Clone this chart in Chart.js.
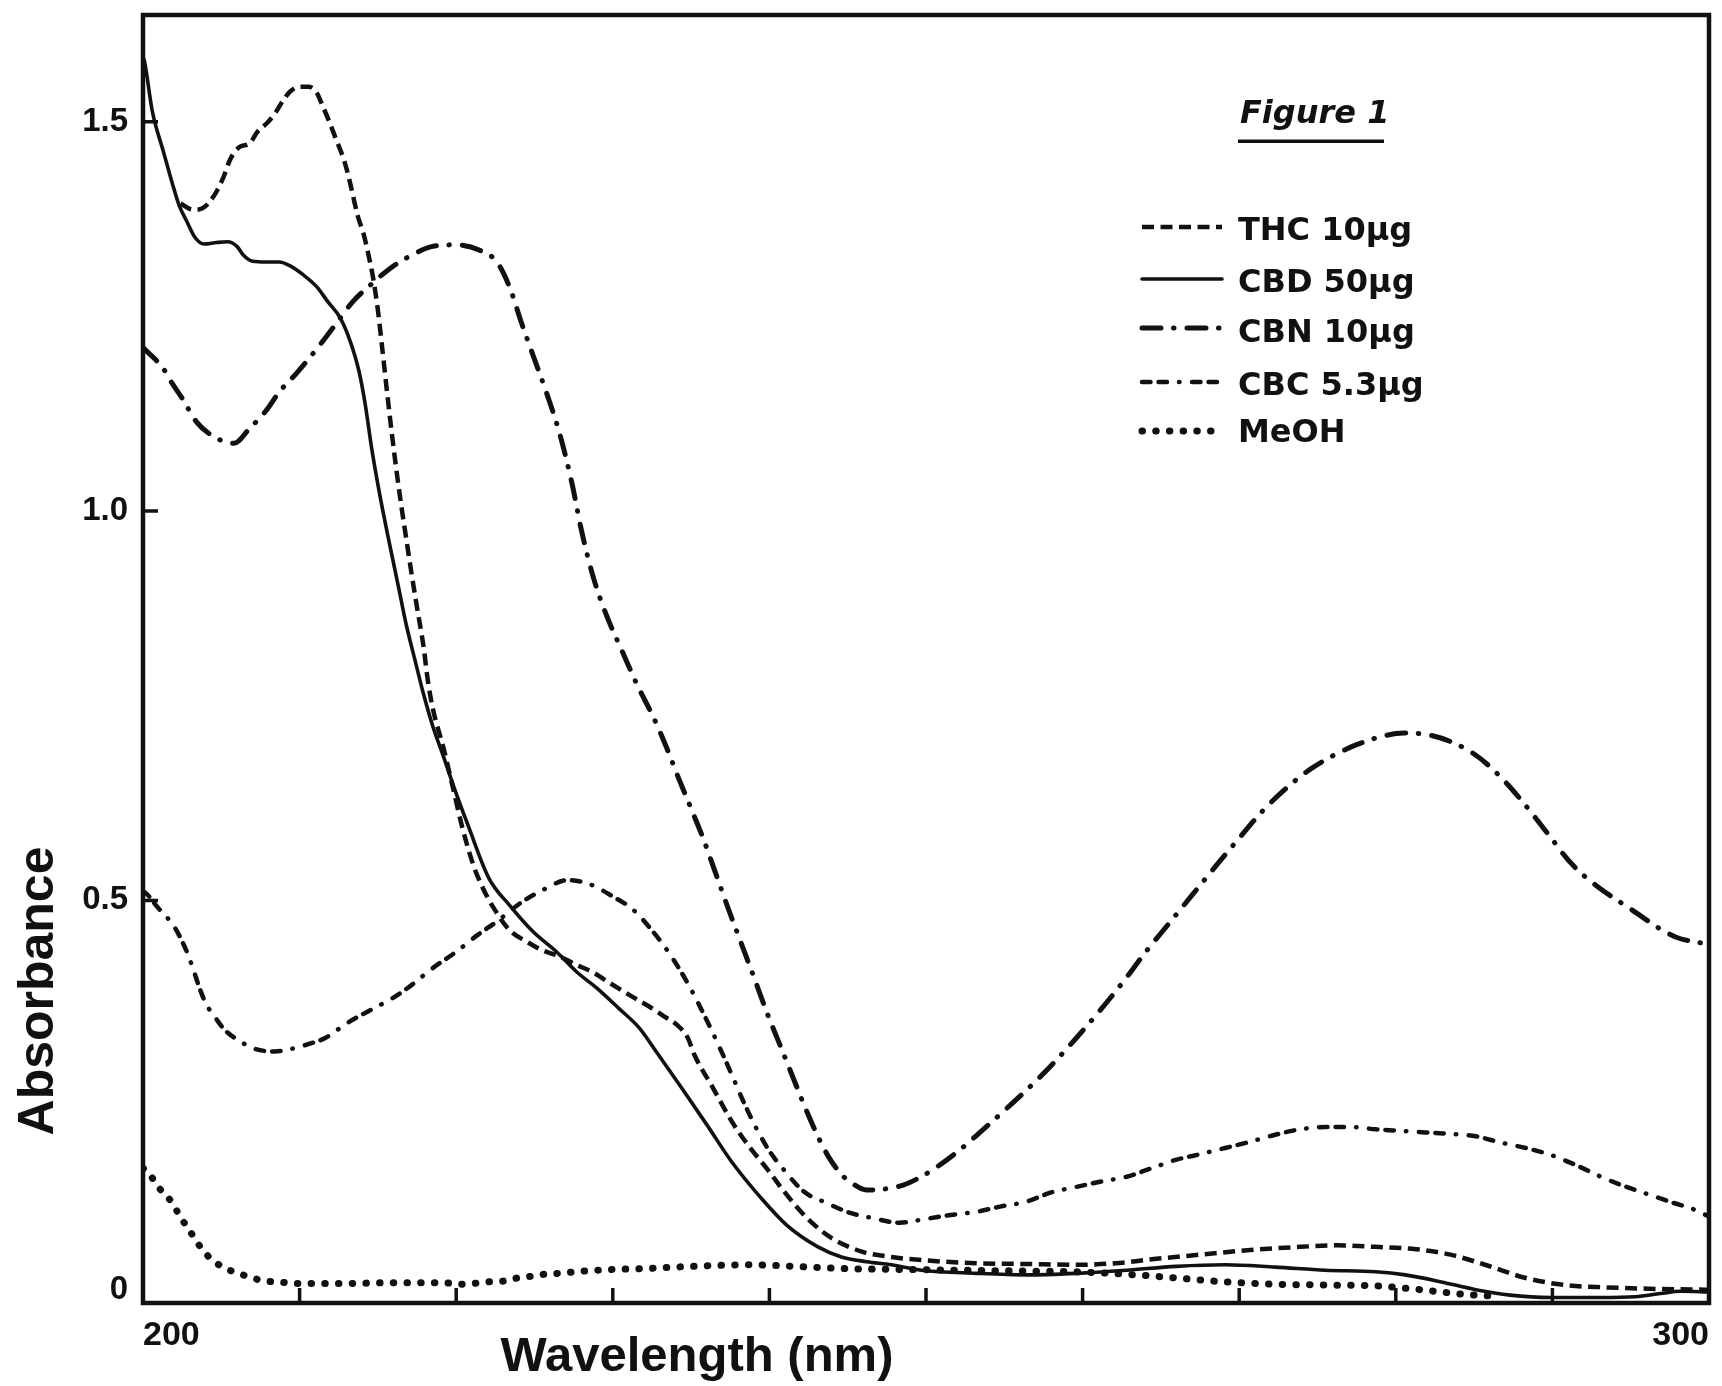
<!DOCTYPE html>
<html>
<head>
<meta charset="utf-8">
<title>Figure 1 - UV spectra</title>
<script src="https://cdn.jsdelivr.net/npm/chart.js@4.4.0/dist/chart.umd.min.js"></script>
<style>
  html, body { margin: 0; padding: 0; background: #fff; }
  #wrap { width: 1722px; height: 1386px; position: relative; }
</style>
</head>
<body>
<div id="wrap"><canvas id="chart"></canvas></div>
<script>
// values: wavelength (nm) and absorbance
const thcNm = [202.4, 203.2, 203.8, 204.5, 205.1, 205.6, 206.2, 206.8, 207.3, 208.0, 208.5, 208.9, 209.4, 210.0, 210.6,
  211.1, 211.5, 211.9, 212.3, 212.8, 213.1, 213.4, 213.7, 214.1, 214.4, 214.7, 215.0, 215.3, 215.6, 215.9, 216.2, 216.5,
  216.8, 217.1, 217.5, 217.9, 218.2, 218.5, 219.2, 219.8, 220.4, 221.1, 221.7, 222.4, 223.4, 224.5, 225.5,
  226.6, 227.7, 228.7, 229.8, 231.1, 232.3, 233.2, 234.1, 234.8, 235.2, 236.4, 237.6, 238.7, 239.9, 241.1, 242.4, 244.0,
  245.9, 247.8, 249.7, 253.2, 256.4, 259.6, 262.1, 264.4, 267.5, 270.7, 273.9, 276.2, 278.7, 281.3, 283.5, 285.7, 288.3,
  290.8, 293.4, 296.6, 300.0];
const thcAbs = [1.395, 1.387, 1.389, 1.404, 1.427, 1.453, 1.468, 1.472, 1.487, 1.500, 1.513, 1.526, 1.539, 1.545, 1.545,
  1.537, 1.519, 1.500, 1.479, 1.453, 1.432, 1.406, 1.380, 1.355, 1.329, 1.299, 1.258, 1.205, 1.150, 1.098, 1.050, 1.006,
  0.966, 0.926, 0.876, 0.828, 0.781, 0.747, 0.695, 0.644, 0.593, 0.545, 0.516, 0.490, 0.462, 0.447, 0.436,
  0.428, 0.417, 0.408, 0.394, 0.378, 0.364, 0.352, 0.340, 0.323, 0.302, 0.259, 0.216, 0.184, 0.154, 0.122, 0.092, 0.066,
  0.049, 0.042, 0.038, 0.034, 0.033, 0.032, 0.034, 0.039, 0.045, 0.051, 0.055, 0.057, 0.055, 0.052, 0.045, 0.032, 0.015,
  0.006, 0.003, 0.001, 0.000];

const cbdNm = [200.0, 200.1, 200.6, 201.3, 201.9, 202.3, 202.8, 203.3, 203.9, 204.7, 205.4, 206.0, 206.4, 207.0, 207.9,
  208.7, 209.4, 210.2, 211.1, 211.8, 212.6, 213.2, 213.8, 214.2, 214.6, 215.1, 215.7, 216.3, 216.8, 217.4, 217.9, 218.5,
  219.2, 219.9, 220.8, 222.1, 223.4, 224.9, 226.4, 227.7, 229.0, 230.4, 231.7, 232.8, 234.4, 236.0, 237.6, 239.5, 241.1,
  243.1, 244.6, 246.2, 247.8, 249.7, 253.2, 256.4, 259.6, 262.8, 266.0, 269.1, 272.3, 275.5, 278.7, 280.6, 282.9, 285.1,
  287.3, 289.9, 293.1, 295.3, 296.9, 298.2, 300.0];
const cbdAbs = [1.583, 1.577, 1.513, 1.462, 1.419, 1.393, 1.372, 1.352, 1.343, 1.345, 1.346, 1.340, 1.329, 1.321, 1.320,
  1.320, 1.315, 1.304, 1.288, 1.269, 1.248, 1.220, 1.179, 1.136, 1.081, 1.023, 0.962, 0.904, 0.855, 0.806, 0.766, 0.724,
  0.684, 0.643, 0.594, 0.528, 0.494, 0.460, 0.434, 0.408, 0.387, 0.361, 0.336, 0.305, 0.259, 0.212, 0.164, 0.117, 0.083,
  0.055, 0.042, 0.036, 0.032, 0.025, 0.021, 0.019, 0.021, 0.025, 0.030, 0.032, 0.029, 0.025, 0.023, 0.019, 0.010, 0.000,
  -0.007, -0.010, -0.010, -0.009, -0.005, -0.002, -0.003];

const cbnNm = [200.0, 201.3, 201.8, 202.5, 203.4, 204.5, 205.8, 206.8, 207.9, 208.7, 209.8, 210.6, 211.7, 212.6, 213.4,
  214.5, 215.8, 217.0, 218.5, 220.0, 221.5, 222.6, 223.4, 224.2, 225.0, 225.8, 226.6, 227.4, 228.0, 228.8, 229.6, 230.6,
  231.6, 232.6, 233.4, 234.2, 235.0, 235.8, 236.6, 237.4, 238.2, 239.0, 239.8, 240.6, 241.4, 242.2, 243.0, 243.8, 244.6,
  245.4, 246.2, 247.2, 248.5, 249.5, 250.5, 252.0, 253.5, 255.0, 256.5, 258.0, 259.5, 261.0, 262.5, 264.0, 265.5, 267.0,
  268.5, 270.0, 271.5, 273.0, 274.5, 276.0, 277.5, 279.0, 280.5, 282.0, 283.5, 285.0, 286.0, 287.0, 288.0, 289.0, 290.0,
  291.0, 292.0, 293.0, 294.0, 295.0, 296.0, 297.0, 298.0, 299.0, 300.0];
const cbnAbs = [1.210, 1.183, 1.166, 1.145, 1.115, 1.096, 1.087, 1.106, 1.130, 1.153, 1.177, 1.196, 1.224, 1.248, 1.269,
  1.290, 1.312, 1.327, 1.340, 1.342, 1.335, 1.320, 1.288, 1.240, 1.195, 1.150, 1.100, 1.035, 0.975, 0.912, 0.866, 0.820,
  0.775, 0.735, 0.698, 0.657, 0.618, 0.578, 0.533, 0.488, 0.445, 0.402, 0.358, 0.318, 0.278, 0.238, 0.201, 0.170, 0.148,
  0.135, 0.128, 0.129, 0.134, 0.143, 0.155, 0.177, 0.203, 0.230, 0.258, 0.288, 0.321, 0.356, 0.393, 0.433, 0.470, 0.507,
  0.544, 0.580, 0.615, 0.644, 0.668, 0.686, 0.700, 0.710, 0.715, 0.713, 0.704, 0.688, 0.672, 0.652, 0.629, 0.604, 0.578,
  0.552, 0.532, 0.516, 0.502, 0.489, 0.475, 0.462, 0.452, 0.447, 0.444];

const cbcNm = [200.0, 200.3, 200.9, 202.0, 202.8, 203.2, 203.6, 204.0, 204.6, 205.2, 206.2, 207.2, 208.4, 209.4, 210.5,
  211.7, 213.0, 214.7, 215.9, 217.0, 218.5, 220.0, 221.4, 222.6, 224.2, 225.5, 227.1, 228.5, 230.0, 231.3, 232.4, 233.4,
  234.4, 235.2, 236.0, 236.8, 237.6, 238.4, 239.2, 240.0, 240.8, 242.2, 243.7, 245.1, 246.6, 248.3, 250.0, 251.6,
  253.2, 254.8, 256.4, 258.0, 259.6, 261.2, 262.8, 264.4, 266.0, 267.5, 269.1, 270.7, 272.3, 273.9, 275.5, 277.1, 278.7,
  280.3, 281.9, 283.5, 285.1, 286.7, 288.3, 289.9, 291.5, 293.1, 294.6, 296.2, 297.8, 298.8, 300.0];
const cbcAbs = [0.512, 0.507, 0.492, 0.466, 0.434, 0.412, 0.388, 0.368, 0.350, 0.334, 0.319, 0.309, 0.306, 0.309, 0.315,
  0.324, 0.342, 0.361, 0.374, 0.389, 0.413, 0.434, 0.456, 0.473, 0.498, 0.513, 0.526, 0.521, 0.505, 0.488, 0.464, 0.438,
  0.407, 0.378, 0.346, 0.312, 0.276, 0.239, 0.206, 0.178, 0.157, 0.126, 0.111, 0.099, 0.092, 0.086, 0.091, 0.096,
  0.100, 0.107, 0.113, 0.125, 0.132, 0.139, 0.145, 0.156, 0.167, 0.174, 0.182, 0.190, 0.199, 0.206, 0.209, 0.209, 0.206,
  0.204, 0.202, 0.200, 0.197, 0.189, 0.182, 0.173, 0.160, 0.145, 0.133, 0.122, 0.111, 0.105, 0.094];

const meohNm = [200.0, 200.3, 200.8, 201.3, 201.9, 202.3, 202.8, 203.3, 203.8, 204.5, 205.3, 206.1, 207.0, 207.8, 208.7,
  209.6, 212.8, 216.0, 219.1, 220.4, 222.0, 223.0, 223.9, 224.7, 225.7, 226.5, 228.2, 230.0, 231.9, 235.1, 238.7, 241.5,
  245.0, 248.5, 252.0, 256.0, 259.5, 263.4, 266.0, 269.1, 272.3, 275.5, 278.7, 280.6, 282.9, 284.4, 286.0];
const meohAbs = [0.156, 0.152, 0.137, 0.124, 0.111, 0.096, 0.081, 0.066, 0.051, 0.037, 0.027, 0.021, 0.015, 0.011, 0.010,
  0.008, 0.008, 0.009, 0.009, 0.007, 0.010, 0.011, 0.015, 0.017, 0.020, 0.021, 0.024, 0.026, 0.027, 0.030, 0.032, 0.030,
  0.027, 0.026, 0.025, 0.024, 0.023, 0.019, 0.015, 0.010, 0.007, 0.006, 0.005, 0.002, -0.003, -0.006, -0.008];

const xTickValues = [200, 210, 220, 230, 240, 250, 260, 270, 280, 290, 300];
const yTickValues = [0, 0.5, 1.0, 1.5];
const seriesLabels = ['THC 10μg', 'CBD 50μg', 'CBN 10μg', 'CBC 5.3μg', 'MeOH'];

const ink = '#111';
const sans = '"Liberation Sans", Arial, sans-serif';
const wide = '"DejaVu Sans", sans-serif';

function pairs(xs, ys) {
  return xs.map((x, i) => ({ x, y: ys[i] }));
}

// frame, inward ticks, axis titles and the legend box in the top right
const decor = {
  id: 'decor',
  afterDatasetsDraw(chart) {
    const { ctx, chartArea: a, scales: { x, y } } = chart;
    ctx.save();
    ctx.strokeStyle = ink;
    ctx.setLineDash([]);
    ctx.lineWidth = 4.5;
    ctx.strokeRect(a.left, a.top, a.right - a.left, a.bottom - a.top);

    ctx.lineWidth = 3.5;
    ctx.beginPath();
    xTickValues.slice(1, -1).forEach(v => {
      const px = x.getPixelForValue(v);
      ctx.moveTo(px, a.bottom);
      ctx.lineTo(px, a.bottom - 15);
    });
    yTickValues.slice(1).forEach(v => {
      const py = y.getPixelForValue(v);
      ctx.moveTo(a.left, py);
      ctx.lineTo(a.left + 15, py);
    });
    ctx.stroke();

    ctx.fillStyle = ink;
    ctx.font = 'bold 49px ' + sans;
    ctx.textAlign = 'center';
    ctx.textBaseline = 'alphabetic';
    ctx.fillText('Wavelength (nm)', 697, 1371);

    ctx.save();
    ctx.translate(53, 991);
    ctx.rotate(-Math.PI / 2);
    ctx.font = 'bold 50px ' + sans;
    ctx.fillText('Absorbance', 0, 0);
    ctx.restore();

    ctx.textAlign = 'left';
    ctx.font = 'italic bold 32px ' + wide;
    ctx.fillText('Figure 1', 1240, 123);
    ctx.fillRect(1238, 139.5, 146, 3.5);

    const rowLine = [227, 279, 328, 382, 431];
    const rowText = [240, 292, 342, 395, 442];
    ctx.font = 'bold 32px ' + wide;
    chart.data.datasets.forEach((ds, i) => {
      ctx.save();
      ctx.lineWidth = ds.borderWidth;
      ctx.lineCap = ds.borderCapStyle || 'butt';
      ctx.setLineDash(ds.borderDash || []);
      ctx.beginPath();
      ctx.moveTo(1142, rowLine[i]);
      ctx.lineTo(1222, rowLine[i]);
      ctx.stroke();
      ctx.restore();
      ctx.fillText(ds.label, 1238, rowText[i]);
    });
    ctx.restore();
  }
};

const common = { borderColor: ink, pointRadius: 0, fill: false, cubicInterpolationMode: 'monotone', borderJoinStyle: 'round' };

new Chart(document.getElementById('chart'), {
  type: 'line',
  data: {
    datasets: [
      { ...common, label: seriesLabels[0], data: pairs(thcNm, thcAbs), borderWidth: 4.5, borderDash: [12, 6.5], borderCapStyle: 'butt' },
      { ...common, label: seriesLabels[1], data: pairs(cbdNm, cbdAbs), borderWidth: 3.6, borderCapStyle: 'round' },
      { ...common, label: seriesLabels[2], data: pairs(cbnNm, cbnAbs), borderWidth: 5, borderDash: [19, 12.5, 0.5, 13], borderCapStyle: 'round' },
      { ...common, label: seriesLabels[3], data: pairs(cbcNm, cbcAbs), borderWidth: 4.5, borderDash: [8.5, 8, 8.5, 12, 0.5, 12.5], borderCapStyle: 'round' },
      { ...common, label: seriesLabels[4], data: pairs(meohNm, meohAbs), borderWidth: 7, borderDash: [0.5, 13.2], borderCapStyle: 'round' }
    ]
  },
  options: {
    responsive: true,
    maintainAspectRatio: false,
    animation: false,
    layout: { padding: { top: 15, right: 13, left: 0, bottom: 0 } },
    plugins: { legend: { display: false }, tooltip: { enabled: false } },
    scales: {
      x: {
        type: 'linear', min: 200, max: 300,
        afterBuildTicks: s => { s.ticks = xTickValues.map(v => ({ value: v })); },
        afterFit: s => { s.height = 83; s.paddingLeft = 0; s.paddingRight = 0; },
        grid: { display: false, drawTicks: false },
        border: { display: false },
        ticks: {
          align: 'inner', maxRotation: 0, autoSkip: false, padding: 12, color: ink,
          font: { family: sans, size: 34, weight: 'bold' },
          callback: v => (v === 200 || v === 300) ? String(v) : ''
        }
      },
      y: {
        type: 'linear', min: -0.0171, max: 1.6372,
        afterBuildTicks: s => { s.ticks = yTickValues.map(v => ({ value: v })); },
        afterFit: s => { s.width = 143; s.paddingTop = 0; s.paddingBottom = 0; },
        grid: { display: false, drawTicks: false },
        border: { display: false },
        ticks: {
          padding: 15, color: ink,
          font: { family: sans, size: 33, weight: 'bold' },
          callback: v => v === 0 ? '0' : v.toFixed(1)
        }
      }
    }
  },
  plugins: [decor]
});
</script>
</body>
</html>
